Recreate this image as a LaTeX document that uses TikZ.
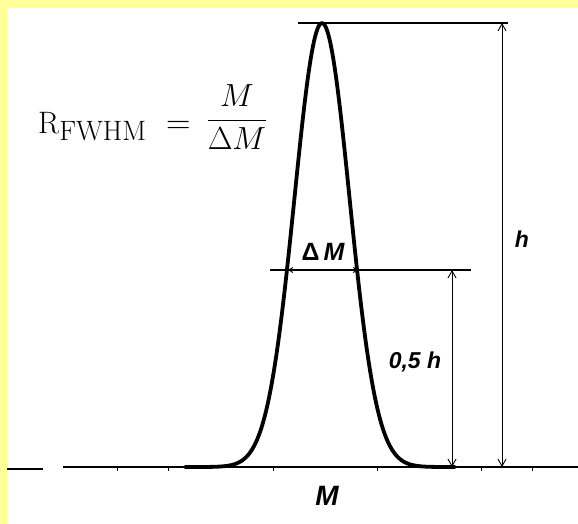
\RequirePackage{fix-cm}
\documentclass[tikz,border=0pt]{standalone}
\usepackage{amsmath}
\usepackage{fontspec}
\newfontfamily\labfont{Liberation Sans}
\usetikzlibrary{arrows.meta}
\definecolor{framey}{RGB}{255,255,153}

\begin{document}
\begin{tikzpicture}[x=1pt,y=1pt,
    peak/.style={line width=3.8pt,line cap=round,line join=round},
    rule/.style={line width=1.6pt},
    dim/.style={line width=0.9pt,{Straight Barb[length=7pt,width=8pt]}-{Straight Barb[length=7pt,width=8pt]}},
    dimsmall/.style={line width=0.9pt,{Straight Barb[length=4pt,width=5pt]}-{Straight Barb[length=4pt,width=5pt]}},
    lab/.style={inner sep=0pt,anchor=base,font={\labfont\fontsize{#1}{#1}\selectfont\bfseries\itshape}}]
  % frame
  \fill [framey] (0,0) rectangle (578,-524);
  \fill [white] (7,-8) rectangle (578,-524);
  \useasboundingbox (0,0) rectangle (578,-524);
  % points
  \coordinate (hTop) at (502,-23);
  \coordinate (hBot) at (502,-467);
  \coordinate (halfTop) at (452,-270);
  \coordinate (halfBot) at (452,-467);
  \coordinate (dmL) at (288,-270);
  \coordinate (dmR) at (358,-270);
  % rules
  \draw [rule] (298,-23) -- (508,-23);
  \draw [rule] (270,-270) -- (471,-270);
  \draw [rule] (63,-467) -- (578,-467);
  \draw [rule] (7,-469) -- (43,-469);
  \foreach \t in {117,168,273,377,481,532}
    \draw [line width=0.8pt] (\t,-467) -- ++(0,-4);
  % peak
  \draw [peak] plot[domain=185:455,samples=141,smooth] (\x,{-467+444*exp(-0.5*((\x-322)/27.5)^2)});
  % dimensions
  \draw [dim] (hTop) -- (hBot);
  \draw [dim] (halfTop) -- (halfBot);
  \draw [dimsmall] (dmL) -- (dmR);
  % labels
  \node [lab=25] (dm) at (323,-260) {{\upshape Δ}\,M};
  \node [lab=23] (hlab) at (522,-247) {h};
  \node [lab=23] (halflab) at (415,-368) {0,5 h};
  \node [lab=28] (mlab) at (327,-505) {M};
  \node [inner sep=0pt,anchor=base west] (rfwhm) at (38,-133)
    {\fontsize{31}{34}\selectfont R\raisebox{-7pt}{\fontsize{28}{28}\selectfont FWHM}\hspace{20pt}{\fontsize{34}{34}\selectfont=}\hspace{16pt}\raisebox{5pt}{\fontsize{32}{36}\selectfont$\dfrac{M}{\Delta M}$}};
\end{tikzpicture}
\end{document}
